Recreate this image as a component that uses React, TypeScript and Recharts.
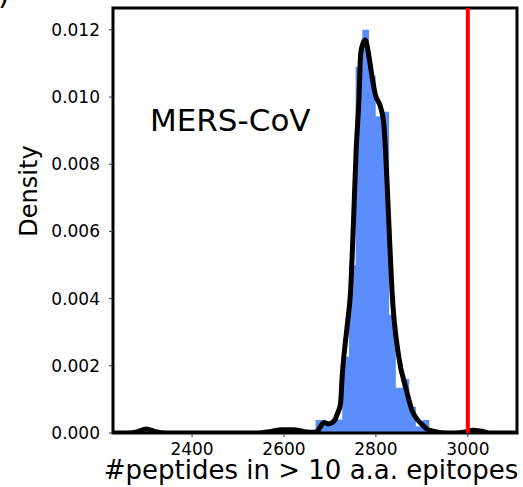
import {
  Area,
  ComposedChart,
  Line,
  ReferenceArea,
  ReferenceLine,
  XAxis,
  YAxis,
} from "recharts";

const FONT = "DejaVu Sans, Verdana, sans-serif";
const BAR_BLUE = "#5b8dfc";

const X_TICKS = [2400, 2600, 2800, 3000];
const Y_TICKS = [0, 0.002, 0.004, 0.006, 0.008, 0.01, 0.012];
const X_DOMAIN = [2228, 3107];
const Y_DOMAIN = [0, 0.01265];
const THRESHOLD = 3000;

// histogram: left bin edge and density, a 0 closes each run of bins
const binEdges = [
  2228, 2296, 2311, 2589, 2606, 2668.5, 2683.1, 2697.6, 2712.2, 2726.8, 2741.3,
  2755.9, 2770.5, 2785.0, 2799.6, 2814.2, 2828.8, 2843.3, 2857.9, 2872.5,
  2887.0, 2901.6, 2916.2, 3002, 3011, 3107,
];
const binDensity = [
  0, 0.0001, 0, 0.00005, 0, 0.00039, 0.0003, 0.00035, 0.0004, 0.00227, 0.00499,
  0.0109, 0.012, 0.01063, 0.00943, 0.00956, 0.00352, 0.00135, 0.00161, 0.00078,
  0.0002, 0.00039, 0, 0.00005, 0, 0,
];

// kernel density estimate
const kdeX = [
  2228, 2260, 2280, 2300, 2320, 2345, 2540, 2570, 2595, 2620, 2645, 2665, 2672,
  2679, 2687, 2697, 2705, 2712, 2716, 2723, 2727, 2738, 2745, 2751, 2757, 2763,
  2767, 2772, 2777, 2785, 2792, 2799, 2810, 2817, 2821, 2828, 2835, 2850, 2865,
  2879, 2889, 2900, 2911, 2922, 2943, 2970, 2995, 3012, 3030, 3050, 3107,
];
const kdeY = [
  0, 0, 0.00003, 0.00012, 0.00004, 0, 0, 0.00004, 0.0001, 0.0001, 0.00004,
  0.00002, 0.00004, 0.00018, 0.00031, 0.00027, 0.00031, 0.00042, 0.00057,
  0.00087, 0.00176, 0.00325, 0.00424, 0.0062, 0.0084, 0.0099, 0.0113, 0.0116,
  0.0117, 0.0112, 0.01057, 0.01006, 0.00971, 0.00922, 0.0084, 0.0063, 0.00424,
  0.00225, 0.00135, 0.00066, 0.00042, 0.00026, 0.00012, 0.00006, 0.00001, 0,
  0.00003, 0.00008, 0.00005, 0, 0,
];

const histData = binEdges.map((x, i) => ({ x, d: binDensity[i] }));
const kdeData = kdeX.map((x, i) => ({ x, d: kdeY[i] }));

const tickStyle = { fontSize: 17, fill: "#000", fontFamily: FONT };

export default function App() {
  return (
    <div style={{ position: "absolute", left: 0, top: 0, width: 523, height: 487, background: "#fff" }}>
      <ComposedChart
        width={523}
        height={487}
        margin={{ top: 8, right: 6, left: 0, bottom: 0 }}
      >
        <XAxis
          dataKey="x"
          type="number"
          domain={X_DOMAIN}
          ticks={X_TICKS}
          allowDataOverflow
          height={54}
          axisLine={false}
          tickSize={4}
          tickMargin={6}
          tickLine={{ stroke: "#333" }}
          tick={tickStyle}
        />
        <YAxis
          type="number"
          domain={Y_DOMAIN}
          ticks={Y_TICKS}
          allowDataOverflow
          width={113}
          axisLine={false}
          tickSize={4}
          tickMargin={9}
          tickLine={{ stroke: "#333" }}
          tick={tickStyle}
          tickFormatter={(v: number) => v.toFixed(3)}
        />
        <Area
          data={histData}
          dataKey="d"
          type="stepAfter"
          fill={BAR_BLUE}
          fillOpacity={1}
          stroke="none"
          isAnimationActive={false}
        />
        <Line
          data={kdeData}
          dataKey="d"
          type="monotone"
          stroke="#000"
          strokeWidth={5}
          dot={false}
          isAnimationActive={false}
        />
        <ReferenceLine x={THRESHOLD} stroke="#ff0000" strokeWidth={4} />
        <ReferenceArea
          x1={X_DOMAIN[0]}
          x2={X_DOMAIN[1]}
          y1={Y_DOMAIN[0]}
          y2={Y_DOMAIN[1]}
          fill="none"
          stroke="#000"
          strokeWidth={3}
        />
      </ComposedChart>
      <svg
        width={523}
        height={487}
        style={{ position: "absolute", left: 0, top: 0, pointerEvents: "none" }}
      >
        <text x={-2} y={4} fontSize={30} fontFamily={FONT}>)</text>
        <text x={150} y={131} fontSize={31} fontFamily={FONT}>MERS-CoV</text>
        <text
          x={0}
          y={0}
          fontSize={24}
          fontFamily={FONT}
          textAnchor="middle"
          transform="translate(37 191) rotate(-90)"
        >
          Density
        </text>
        <text x={311} y={479} fontSize={26} fontFamily={FONT} textAnchor="middle">
          #peptides in &gt; 10 a.a. epitopes
        </text>
      </svg>
    </div>
  );
}
